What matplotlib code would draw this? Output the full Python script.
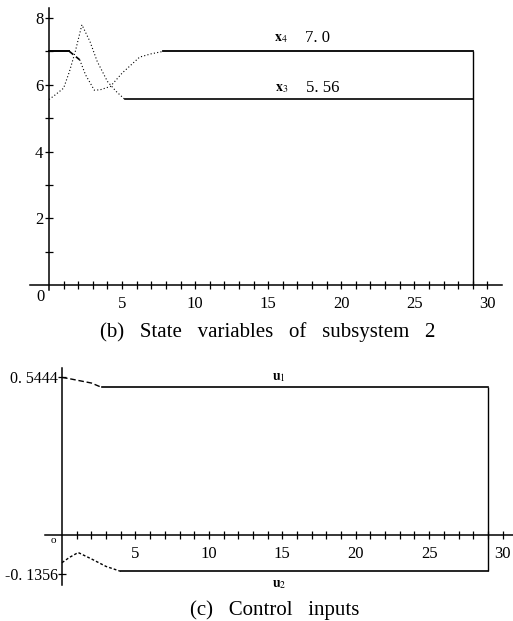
import numpy as np
import matplotlib
matplotlib.use('Agg')
import matplotlib.pyplot as plt

plt.rcParams['font.family'] = ['Liberation Serif', 'DejaVu Serif']
plt.rcParams['mathtext.fontset'] = 'stix'

# State variables of subsystem 2
t_x3 = [0, 0.4, 1.0, 1.4, 1.8, 2.25, 2.8, 3.3, 4.0, 4.6, 5.2, 29]
x3 = [5.56, 5.69, 5.9, 6.4, 7.0, 7.8, 7.3, 6.7, 6.1, 5.8, 5.56, 5.56]
t_x4 = [0, 1.4, 2.1, 2.5, 3.1, 3.5, 4.2, 5.0, 6.2, 7.0, 7.8, 29]
x4 = [7.0, 7.0, 6.75, 6.3, 5.84, 5.85, 5.95, 6.35, 6.83, 6.93, 7.0, 7.0]

# Control inputs
t_u1 = [0, 0.5, 1.0, 1.5, 2.0, 2.7, 29]
u1 = [0.5444, 0.54, 0.535, 0.53, 0.525, 0.51, 0.51]
t_u2 = [0, 0.5, 1.1, 2.0, 3.0, 4.0, 29]
u2 = [-0.095, -0.077, -0.06, -0.082, -0.108, -0.125, -0.125]

t_end = 29
x_ticks = np.arange(1, 31)
x_labels = [5, 10, 15, 20, 25, 30]

fig = plt.figure(figsize=(5.13, 6.21), dpi=100)


def style_axes(ax):
    ax.spines['left'].set_position(('data', 0))
    ax.spines['bottom'].set_position(('data', 0))
    ax.spines['top'].set_visible(False)
    ax.spines['right'].set_visible(False)
    ax.spines['left'].set_linewidth(1.1)
    ax.spines['bottom'].set_linewidth(1.1)
    ax.set_xticks(x_ticks)
    ax.set_xticklabels([str(v) if v in x_labels else '' for v in x_ticks])
    ax.tick_params(direction='inout', length=6, width=0.9, labelsize=12)
    ax.tick_params(axis='x', pad=5)
    ax.patch.set_alpha(0)


# ---- (b) state variables ----
ax1 = fig.add_axes([0.0585, 0.533, 0.920, 0.454])
style_axes(ax1)
ax1.set_xlim(-1.3, 31.0)
ax1.set_ylim(-0.15, 8.3)
ax1.set_yticks(np.arange(1, 9))
ax1.set_yticklabels([str(v) if v % 2 == 0 else '' for v in range(1, 9)])
ax1.tick_params(axis='y', pad=1)

# x3: dotted transient then solid
ax1.plot(t_x3[:11], x3[:11], color='black', lw=0.8, ls=(0, (1, 2)))
ax1.plot(t_x3[10:], x3[10:], color='black', lw=1.2)
# x4: solid start, dotted transient, solid steady state
ax1.plot(t_x4[:2], x4[:2], color='black', lw=1.4)
ax1.plot(t_x4[1:3], x4[1:3], color='black', lw=1.2, ls=(0, (3, 2)))
ax1.plot(t_x4[2:11], x4[2:11], color='black', lw=0.8, ls=(0, (1, 2)))
ax1.plot(t_x4[10:], x4[10:], color='black', lw=1.3)
ax1.vlines(t_end, 0, x4[-1], color='black', lw=1.0)

ax1.text(15.9, 7.4, r'$\mathbf{x}_{4}$', fontsize=10, ha='center', va='center')
ax1.text(17.5, 7.4, '7. 0', fontsize=12, ha='left', va='center')
ax1.text(15.9, 5.9, r'$\mathbf{x}_{3}$', fontsize=10, ha='center', va='center')
ax1.text(17.6, 5.9, '5. 56', fontsize=12, ha='left', va='center')
ax1.text(-0.6, -0.12, '0', fontsize=12, ha='center', va='top')

fig.text(268 / 513, 1 - 332 / 621, '(b)   State   variables   of   subsystem   2',
         fontsize=15, ha='center', va='center')

# ---- (c) control inputs ----
ax2 = fig.add_axes([0.0877, 0.058, 0.912, 0.349])
style_axes(ax2)
ax2.set_xlim(-1.16, 30.7)
ax2.set_ylim(-0.172, 0.576)
ax2.set_yticks([u1[0], -0.1356])
ax2.set_yticklabels(['0. 5444', '-0. 1356'])
ax2.tick_params(axis='y', pad=0, labelsize=11.5)

ax2.plot(t_u1[:6], u1[:6], color='black', lw=1.0, ls=(0, (4, 2)))
ax2.plot(t_u1[5:], u1[5:], color='black', lw=1.2)
ax2.plot(t_u2[:6], u2[:6], color='black', lw=1.0, ls=(0, (2, 1.5)))
ax2.plot(t_u2[5:], u2[5:], color='black', lw=1.2)
ax2.vlines(t_end, u2[-1], u1[-1], color='black', lw=1.0)

ax2.text(14.8, 0.545, r'$\mathbf{u}_{1}$', fontsize=10, ha='center', va='center')
ax2.text(14.8, -0.17, r'$\mathbf{u}_{2}$', fontsize=10, ha='center', va='center')
ax2.text(-0.6, -0.02, 'o', fontsize=8, ha='center', va='center')

fig.text(275 / 513, 1 - 610 / 621, '(c)   Control   inputs',
         fontsize=15, ha='center', va='center')

fig.savefig('out.png', dpi=100)
